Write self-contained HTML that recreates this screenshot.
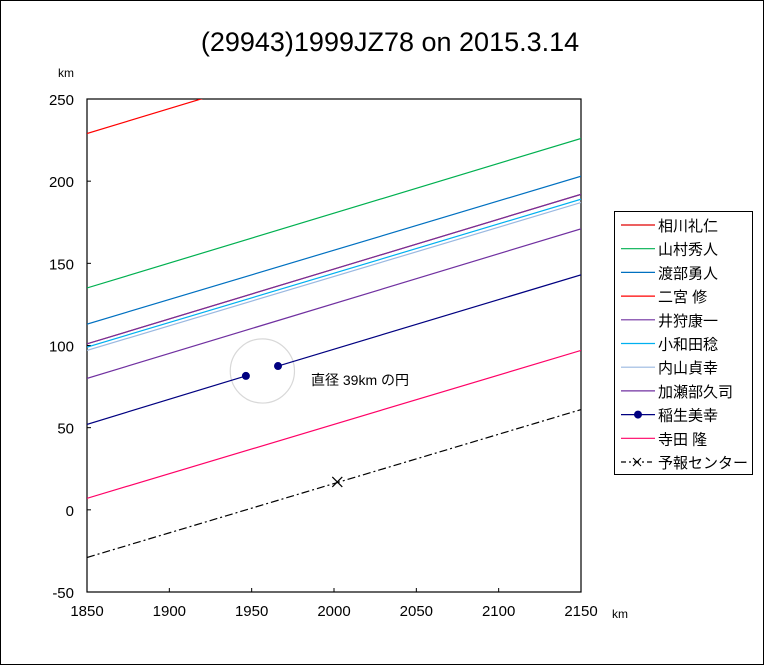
<!DOCTYPE html>
<html><head><meta charset="utf-8">
<style>
body{margin:0;background:#fff;}
svg{display:block;font-family:"Liberation Sans","Noto Sans CJK JP",sans-serif;}
</style></head>
<body>
<svg id="c" width="765" height="666" xmlns="http://www.w3.org/2000/svg">
<rect x="0.5" y="0.5" width="763" height="664" fill="#fff" stroke="#000"/>
<text x="390" y="51" font-size="27" text-anchor="middle">(29943)1999JZ78 on 2015.3.14</text>
<text x="58" y="77" font-size="12">km</text>
<text x="612" y="618" font-size="12">km</text>
<g id="plot"></g>
<g id="legend"></g>
</svg>
<script>
const xTicks=[1850,1900,1950,2000,2050,2100,2150];
const yTicks=[250,200,150,100,50,0,-50];
const seriesNames=["相川礼仁","山村秀人","渡部勇人","二宮 修","井狩康一","小和田稔","内山貞幸","加瀬部久司","稲生美幸","寺田 隆","予報センター"];
const seriesColors=["#e00000","#00b050","#0070c0","#ff0000","#7030a0","#00b0f0","#9ab8e0","#7030a0","#000080","#ff0066","#000000"];
const seriesStart=[101,135,113,229,80,99,97,101,52,7,-29];
const seriesEnd=[192,226,203,320,171,189,187,192,143,97,61];
const inoPoints=[[1946.5,81.5],[1966,87.5]];
const forecastPoint=[2002,17];
const circleCenter=[1956.5,84.5];
const circleDiameter=39;
const NS="http://www.w3.org/2000/svg";
const X0=87,X1=581,Y0=99,Y1=592;
const sx=v=>X0+(v-1850)*(X1-X0)/300;
const sy=v=>Y0+(250-v)*(Y1-Y0)/300;
const plot=document.getElementById('plot');
const legend=document.getElementById('legend');
function mk(tag,attrs,parent){const e=document.createElementNS(NS,tag);for(const k in attrs)e.setAttribute(k,attrs[k]);parent.appendChild(e);return e;}
const clip=mk('clipPath',{id:'pc'},plot);
mk('rect',{x:X0,y:Y0,width:X1-X0,height:Y1-Y0},clip);
let frame=mk('rect',{x:X0,y:Y0,width:X1-X0,height:Y1-Y0,fill:'none',stroke:'#000','stroke-width':1.2},plot);


xTicks.forEach(t=>{
  let l=mk('line',{x1:sx(t),x2:sx(t),y1:Y1,y2:Y1-4,stroke:'#000'},plot);
  
  
  let tx=mk('text',{x:sx(t),y:Y1+24,'font-size':15,'text-anchor':'middle'},plot);
  tx.textContent=t;
  
  
});
yTicks.forEach(t=>{
  let l=mk('line',{x1:X0,x2:X0+4,y1:sy(t),y2:sy(t),stroke:'#000'},plot);
  
  
  let tx=mk('text',{x:X0-13,y:sy(t)+6,'font-size':15,'text-anchor':'end'},plot);
  tx.textContent=t;
  
  
});
const g=mk('g',{'clip-path':'url(#pc)'},plot);
let circ=mk('circle',{cx:sx(circleCenter[0]),cy:sy(circleCenter[1]),r:sx(1850+circleDiameter/2)-X0,fill:'none',stroke:'#d8d8d8','stroke-width':1.2},g);


seriesNames.forEach((n,i)=>{
  const c=seriesColors[i];
  if(i===8){
    let a=mk('line',{x1:sx(1850),y1:sy(seriesStart[i]),x2:sx(inoPoints[0][0]),y2:sy(inoPoints[0][1]),stroke:c,'stroke-width':1.2},g);
    
    
    let b=mk('line',{x1:sx(inoPoints[1][0]),y1:sy(inoPoints[1][1]),x2:sx(2150),y2:sy(seriesEnd[i]),stroke:c,'stroke-width':1.2},g);
    
    
    inoPoints.forEach(p=>{
      let d=mk('circle',{cx:sx(p[0]),cy:sy(p[1]),r:4,fill:c},g);
      
      
    });
  } else {
    const attrs={x1:sx(1850),y1:sy(seriesStart[i]),x2:sx(2150),y2:sy(seriesEnd[i]),stroke:c,'stroke-width':1.2};
    if(i===10)attrs['stroke-dasharray']='8,3,2,3';
    let l=mk('line',attrs,g);
    
    
  }
});
const fx=sx(forecastPoint[0]),fy=sy(forecastPoint[1]);
let xm=mk('path',{d:`M${fx-5},${fy-5}L${fx+5},${fy+5}M${fx-5},${fy+5}L${fx+5},${fy-5}`,stroke:'#000','stroke-width':1.2},g);


let ann=mk('text',{x:311,y:385,'font-size':14},plot);
ann.textContent='直径 39km の円';


let lb=mk('rect',{x:614.5,y:211.5,width:138,height:263,fill:'#fff',stroke:'#000'},legend);


seriesNames.forEach((n,i)=>{
  const y=225+i*23.7;
  const c=seriesColors[i];
  const eg=mk('g',{},legend);
  
  
  const la={x1:621,x2:655,y1:y,y2:y,stroke:c,'stroke-width':1.2};
  if(i===10)la['stroke-dasharray']='5,3,2,3';
  mk('line',la,eg);
  if(i===8)mk('circle',{cx:638,cy:y,r:4,fill:c},eg);
  if(i===10)mk('path',{d:`M633,${y-4}L641,${y+4}M633,${y+4}L641,${y-4}`,stroke:'#000'},eg);
  const t=mk('text',{x:658,y:y+6,'font-size':15},eg);
  t.textContent=n;
});
</script>
</body></html>
